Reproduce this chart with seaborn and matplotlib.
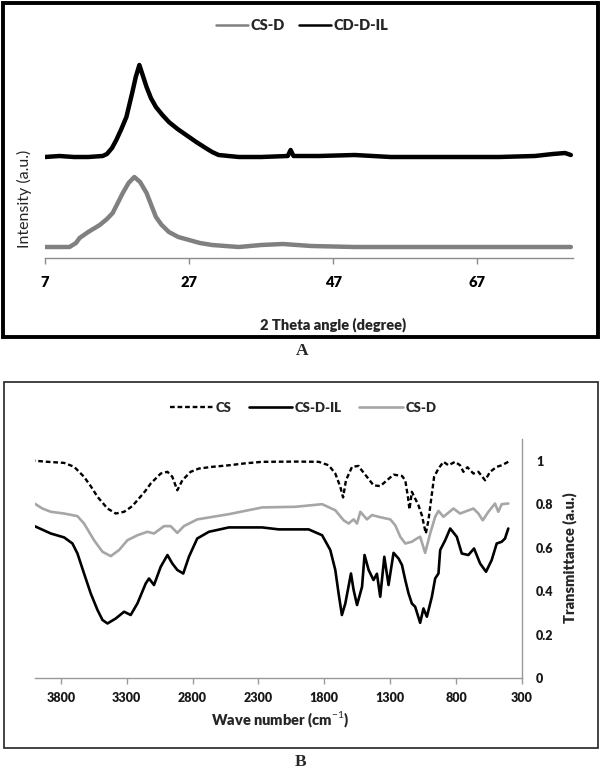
import matplotlib
matplotlib.use("Agg")
import matplotlib.pyplot as plt
from matplotlib.patches import Rectangle
from matplotlib.lines import Line2D
import seaborn as sns
import pandas as pd

# ---------------- Data: panel A (XRD) ----------------
xrd_cdil_theta = [7.0, 9.0, 11.0, 13.0, 15.0, 15.6, 16.3, 16.9, 17.6, 18.3, 19.1, 19.6, 20.1,
                  20.6, 21.1, 21.7, 22.4, 23.3, 24.2, 25.4, 26.6, 28.0, 29.3, 30.2, 31.1,
                  33.9, 37.0, 40.7, 41.1, 41.5, 45.0, 50.0, 55.0, 60.0, 65.0, 70.0, 75.0,
                  77.5, 79.2, 80.0]
xrd_cdil_int = [101, 102, 101, 101, 102, 104, 110, 118, 129, 141, 165, 181, 193,
                182, 171, 160, 151, 143, 136, 129, 123, 116, 110, 106, 103,
                101, 101, 102, 108, 102, 102, 103, 101, 101, 101, 101, 102,
                104, 105, 103]

xrd_csd_theta = [7.0, 9.0, 10.4, 11.3, 11.8, 13.0, 14.6, 15.6, 16.4, 17.1, 17.8, 18.6, 19.4,
                 20.2, 21.1, 21.8, 22.4, 23.2, 24.2, 25.5, 27.0, 28.5, 30.2, 33.9, 37.0,
                 40.0, 44.0, 50.0, 60.0, 70.0, 80.0]
xrd_csd_int = [11, 11, 11, 15, 20, 26, 33, 39, 45, 55, 65, 75, 81,
               76, 65, 52, 41, 33, 26, 21, 18, 15, 13, 11, 13,
               14, 12, 11, 11, 11, 11]

xrd_ticks = [7, 27, 47, 67]

# ---------------- Data: panel B (FTIR) ----------------
cs_wn = [4000, 3900, 3775, 3699, 3624, 3570, 3522, 3446, 3383, 3320, 3260, 3219, 3160, 3118,
         3042, 2991, 2954, 2916, 2878, 2815, 2752, 2650, 2525, 2400, 2272, 2000, 1843, 1767,
         1717, 1679, 1658, 1636, 1590, 1540, 1527, 1477, 1427, 1376, 1325, 1275, 1211, 1186,
         1166, 1154, 1136, 1111, 1086, 1060, 1030, 1010, 992, 967, 934, 896, 858, 808, 770,
         745, 714, 669, 631, 580, 542, 492, 454, 404]
cs_tr = [1.00, 0.995, 0.99, 0.972, 0.926, 0.88, 0.834, 0.780, 0.757, 0.765, 0.79, 0.818, 0.86, 0.895,
         0.941, 0.949, 0.926, 0.864, 0.910, 0.949, 0.964, 0.972, 0.979, 0.988, 0.995, 0.996, 0.995, 0.979,
         0.941, 0.880, 0.831, 0.910, 0.972, 0.976, 0.964, 0.926, 0.887, 0.883, 0.910, 0.936, 0.93, 0.910,
         0.834, 0.776, 0.857, 0.826, 0.795, 0.749, 0.665, 0.726, 0.811, 0.926, 0.964, 0.995, 0.979, 0.995, 0.979,
         0.949, 0.97, 0.941, 0.949, 0.910, 0.949, 0.972, 0.979, 0.995]

csdil_wn = [4000, 3876, 3775, 3712, 3674, 3624, 3573, 3522, 3484, 3446, 3383, 3320, 3270, 3219,
            3156, 3131, 3093, 3042, 2991, 2954, 2916, 2871, 2828, 2765, 2676, 2525, 2272, 2146,
            1919, 1817, 1755, 1717, 1692, 1667, 1641, 1598, 1578, 1552, 1514, 1495, 1464, 1427,
            1401, 1376, 1345, 1313, 1275, 1237, 1211, 1186, 1161, 1136, 1111, 1073, 1048, 1022,
            984, 959, 934, 921, 883, 845, 795, 757, 707, 664, 618, 573, 530, 492, 454, 429, 404]
csdil_tr = [0.699, 0.665, 0.647, 0.619, 0.573, 0.481, 0.389, 0.313, 0.267, 0.251, 0.274, 0.305, 0.290, 0.343,
            0.435, 0.458, 0.428, 0.512, 0.566, 0.527, 0.497, 0.481, 0.558, 0.642, 0.673, 0.693, 0.693, 0.684,
            0.684, 0.657, 0.589, 0.497, 0.389, 0.290, 0.343, 0.481, 0.405, 0.336, 0.420, 0.566, 0.497, 0.451,
            0.480, 0.374, 0.558, 0.428, 0.576, 0.550, 0.520, 0.451, 0.389, 0.343, 0.328, 0.254, 0.320, 0.282,
            0.374, 0.458, 0.481, 0.589, 0.634, 0.688, 0.650, 0.573, 0.566, 0.596, 0.527, 0.489, 0.543, 0.619,
            0.627, 0.642, 0.688]

csd_wn = [4000, 3940, 3876, 3775, 3674, 3624, 3548, 3484, 3421, 3358, 3295, 3219, 3143, 3093,
          3017, 2967, 2916, 2866, 2765, 2525, 2272, 2020, 1817, 1717, 1654, 1616, 1578, 1552,
          1527, 1477, 1439, 1376, 1300, 1262, 1224, 1186, 1136, 1098, 1073, 1035, 997, 959,
          934, 896, 820, 770, 669, 631, 598, 555, 505, 480, 454, 404]
csd_tr = [0.803, 0.78, 0.765, 0.757, 0.745, 0.711, 0.634, 0.581, 0.561, 0.589, 0.634, 0.657, 0.673, 0.665,
          0.699, 0.699, 0.668, 0.699, 0.730, 0.754, 0.785, 0.788, 0.800, 0.772, 0.726, 0.711, 0.73, 0.711,
          0.765, 0.730, 0.750, 0.740, 0.730, 0.703, 0.650, 0.619, 0.627, 0.642, 0.650, 0.576, 0.665, 0.742,
          0.769, 0.742, 0.780, 0.757, 0.780, 0.757, 0.726, 0.765, 0.803, 0.765, 0.800, 0.803]

ftir_ticks = [3800, 3300, 2800, 2300, 1800, 1300, 800, 300]
tr_ticks = [0, 0.2, 0.4, 0.6, 0.8, 1.0]
tr_labels = ["0", "0.2", "0.4", "0.6", "0.8", "1"]

# ---------------- Styling ----------------
sns.set_theme(style="white")
plt.rcParams["font.family"] = ["Lato", "DejaVu Sans"]
plt.rcParams["mathtext.fontset"] = "custom"
plt.rcParams["mathtext.rm"] = "Lato"
plt.rcParams["mathtext.bf"] = "Lato:bold"

BOLD = 800

W, H = 601, 769
fig = plt.figure(figsize=(W / 100, H / 100), dpi=100)
fig.patch.set_facecolor("white")

def fx(px):
    return px / W

def fy(py):
    return 1 - py / H

# ---------------- Panel A ----------------
axA = fig.add_axes([fx(45), fy(258), (573 - 45) / W, 208 / H])
dfa1 = pd.DataFrame({"theta": xrd_csd_theta, "I": xrd_csd_int})
dfa2 = pd.DataFrame({"theta": xrd_cdil_theta, "I": xrd_cdil_int})
sns.lineplot(data=dfa1, x="theta", y="I", ax=axA, color="#808080", lw=3.2, estimator=None)
sns.lineplot(data=dfa2, x="theta", y="I", ax=axA, color="black", lw=3.2, estimator=None)
axA.set_xlim(7, 80.3)
axA.set_ylim(0, 208)
axA.set_xticks(xrd_ticks)
axA.set_xticklabels([str(t) for t in xrd_ticks], fontsize=10.5, fontweight=BOLD)
axA.set_yticks([])
for s in ["top", "right", "left"]:
    axA.spines[s].set_visible(False)
axA.spines["bottom"].set_color("#8c8c8c")
axA.spines["bottom"].set_linewidth(1.0)
axA.tick_params(axis="x", bottom=True, direction="out", length=4, width=1,
                color="#8c8c8c", pad=9, labelcolor="black")
axA.set_xlabel("2 Theta angle (degree)", fontsize=10.5, fontweight=BOLD)
axA.xaxis.label.set_va("center")
axA.xaxis.set_label_coords((333.5 - 45) / 528, -67 / 208)
axA.set_ylabel("Intensity (a.u.)", fontsize=11.5)
axA.yaxis.label.set_va("center")
axA.yaxis.set_label_coords(-21 / 528, 59 / 208)
handlesA = [Line2D([], [], color="#808080", lw=1.8), Line2D([], [], color="black", lw=1.8)]
axA.legend(handlesA, ["CS-D", "CD-D-IL"], loc="center", ncol=2, frameon=False,
           bbox_to_anchor=(fx(302), fy(26)), bbox_transform=fig.transFigure,
           prop={"size": 10.5, "weight": BOLD}, handlelength=2.2, handletextpad=0.15,
           columnspacing=1.0)

# ---------------- Panel B ----------------
axB = fig.add_axes([fx(34.5), fy(678), (522 - 34.5) / W, 239 / H])
dfb_cs = pd.DataFrame({"wn": cs_wn, "T": cs_tr})
dfb_il = pd.DataFrame({"wn": csdil_wn, "T": csdil_tr})
dfb_d = pd.DataFrame({"wn": csd_wn, "T": csd_tr})
sns.lineplot(data=dfb_d, x="wn", y="T", ax=axB, color="#a6a6a6", lw=1.9, estimator=None)
sns.lineplot(data=dfb_il, x="wn", y="T", ax=axB, color="black", lw=1.9, estimator=None)
sns.lineplot(data=dfb_cs, x="wn", y="T", ax=axB, color="black", lw=1.7, estimator=None,
             linestyle=(0, (2.0, 1.2)))
axB.set_xlim(4000, 300)
axB.set_ylim(0, 1.1)
axB.set_xticks(ftir_ticks)
axB.set_xticklabels([str(t) for t in ftir_ticks], fontsize=9, fontweight=BOLD)
axB.yaxis.tick_right()
axB.yaxis.set_label_position("right")
axB.set_yticks(tr_ticks)
axB.set_yticklabels(tr_labels, fontsize=9, fontweight=BOLD)
for s in ["top", "left"]:
    axB.spines[s].set_visible(False)
for s in ["bottom", "right"]:
    axB.spines[s].set_color("#999999")
    axB.spines[s].set_linewidth(1.0)
axB.tick_params(axis="x", bottom=True, direction="out", length=4, width=1,
                color="#999999", pad=6, labelcolor="#1a1a1a")
axB.tick_params(axis="y", right=True, left=False, length=0, pad=10, labelcolor="#1a1a1a")
axB.set_xlabel("Wave number (cm$^{-1}$)", fontsize=10.5, fontweight=BOLD)
axB.xaxis.label.set_va("center")
axB.xaxis.set_label_coords((280 - 34.5) / 487.5, -42 / 239)
axB.set_ylabel("Transmittance (a.u.)", fontsize=10.5, fontweight=BOLD, rotation=90)
axB.yaxis.label.set_va("center")
axB.yaxis.set_label_coords((570 - 34.5) / 487.5, 120 / 239)
handlesB = [Line2D([], [], color="black", lw=1.7, linestyle=(0, (2.0, 1.2))),
            Line2D([], [], color="black", lw=1.9),
            Line2D([], [], color="#a6a6a6", lw=1.9)]
axB.legend(handlesB, ["CS", "CS-D-IL", "CS-D"], loc="center", ncol=3, frameon=False,
           bbox_to_anchor=(fx(303), fy(408)), bbox_transform=fig.transFigure,
           prop={"size": 9.5, "weight": BOLD}, handlelength=3.3, handletextpad=0.2,
           columnspacing=1.3)

# ---------------- Frames and captions ----------------
fig.add_artist(Rectangle((fx(2.5), fy(337)), 595.5 / W, 334.5 / H, transform=fig.transFigure,
                         fill=False, lw=2.8, ec="black"))
fig.add_artist(Rectangle((fx(3.5), fy(748)), 594.5 / W, 366 / H, transform=fig.transFigure,
                         fill=False, lw=1.2, ec="#222222"))
fig.text(fx(302), fy(351), "A", ha="center", va="center", fontsize=12.5,
         fontweight="bold", family="Liberation Serif")
fig.text(fx(301), fy(762), "B", ha="center", va="center", fontsize=12.5,
         fontweight="bold", family="Liberation Serif")

fig.savefig("out.png", dpi=100, facecolor="white")
